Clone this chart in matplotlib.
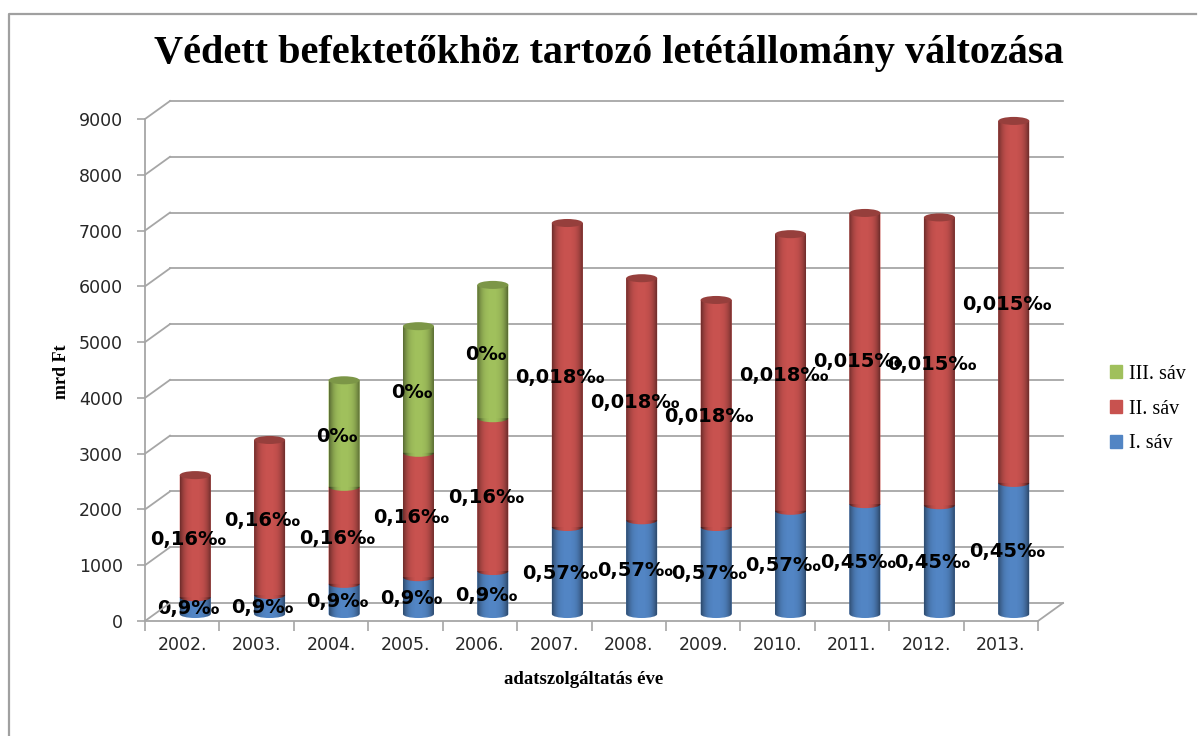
import matplotlib
matplotlib.use('Agg')
import matplotlib.pyplot as plt
import numpy as np
from matplotlib.lines import Line2D
from matplotlib.patches import Ellipse, PathPatch, Patch
from matplotlib.path import Path
from matplotlib.transforms import ScaledTranslation

# Data
years = ['2002.', '2003.', '2004.', '2005.', '2006.', '2007.',
         '2008.', '2009.', '2010.', '2011.', '2012.', '2013.']
sav1 = [300, 340, 540, 660, 770, 1560, 1680, 1560, 1850, 1970, 1950, 2350]
sav2 = [2190, 2780, 1740, 2230, 2740, 5450, 4340, 4070, 4960, 5220, 5160, 6490]
sav3 = [0, 0, 1910, 2270, 2390, 0, 0, 0, 0, 0, 0, 0]
labels1 = ['0,9‰', '0,9‰', '0,9‰', '0,9‰', '0,9‰', '0,57‰',
           '0,57‰', '0,57‰', '0,57‰', '0,45‰', '0,45‰', '0,45‰']
labels2 = ['0,16‰', '0,16‰', '0,16‰', '0,16‰', '0,16‰', '0,018‰',
           '0,018‰', '0,018‰', '0,018‰', '0,015‰', '0,015‰', '0,015‰']
labels3 = ['', '', '0‰', '0‰', '0‰', '', '', '', '', '', '', '']
yticks = [0, 1000, 2000, 3000, 4000, 5000, 6000, 7000, 8000, 9000]

W, H = 1201, 736
DPI = 100
BLUE, RED, GREEN = '#5285c4', '#c8524f', '#a0c05c'
GRID = '#a6a6a6'
SERIF = 'Liberation Serif'

fig = plt.figure(figsize=(W / DPI, H / DPI), dpi=DPI)
ax = fig.add_axes([145 / W, 1 - 621 / H, 893 / W, 502 / H])
ax.set_xlim(0, 12)
ax.set_ylim(0, 9000)
ax.patch.set_visible(False)


def shifted(dx, dy):
    # dx, dy in pixels, used for the fake 3d depth
    return ax.transData + ScaledTranslation(dx / DPI, dy / DPI, fig.dpi_scale_trans)


back = shifted(25, 18)
mid = shifted(13, 7)

# Back wall, side wall and floor
for t in yticks:
    ax.plot([0, 12], [t, t], color=GRID, lw=1.3, transform=back, clip_on=False, zorder=1)
    p0 = ax.transData.transform((0, t))
    fig.add_artist(Line2D([p0[0] / W, (p0[0] + 25) / W], [p0[1] / H, (p0[1] + 18) / H],
                          color=GRID, lw=1.3, zorder=1))
p1 = ax.transData.transform((12, 0))
fig.add_artist(Line2D([p1[0] / W, (p1[0] + 25) / W], [p1[1] / H, (p1[1] + 18) / H],
                      color=GRID, lw=1.3, zorder=1))

for s in ['top', 'right']:
    ax.spines[s].set_visible(False)
for s in ['left', 'bottom']:
    ax.spines[s].set_color(GRID)
    ax.spines[s].set_linewidth(1.3)

ax.set_yticks(yticks)
ax.set_xticks(np.arange(13))
ax.set_xticklabels([])
ax.set_xticks(np.arange(12) + 0.5, labels=years, minor=True)
ax.tick_params(axis='x', which='major', length=7, width=1.2, color=GRID)
ax.tick_params(axis='x', which='minor', length=0, pad=11, labelsize=12.5, labelcolor='#262626')
ax.tick_params(axis='y', length=6, width=1.2, color=GRID, pad=10, labelsize=12.5, labelcolor='#262626')

HW = 0.208   # half bar width, in category units
RY = 72      # ellipse half height, in value units
K = 0.5523


def cylinder_path(x, y0, y1):
    verts = [(x - HW, y1), (x + HW, y1),
             (x + HW, y0), (x + HW, y0 - K * RY), (x + K * HW, y0 - RY), (x, y0 - RY),
             (x - K * HW, y0 - RY), (x - HW, y0 - K * RY), (x - HW, y0), (x - HW, y1)]
    codes = [Path.MOVETO, Path.LINETO, Path.LINETO, Path.CURVE4, Path.CURVE4, Path.CURVE4,
             Path.CURVE4, Path.CURVE4, Path.CURVE4, Path.CLOSEPOLY]
    return Path(verts, codes)


# shading across the bar: dark edges, lighter middle
u = np.linspace(-1, 1, 64)
shade = np.zeros((1, 64, 4))
shade[0, :, 3] = 0.45 * np.abs(u) ** 3

x = np.arange(12) + 0.5
bottom = np.zeros(12)
series = [(sav1, BLUE, labels1), (sav2, RED, labels2), (sav3, GREEN, labels3)]
for vals, col, labs in series:
    vals = np.array(vals, dtype=float)
    bars = ax.bar(x, vals, width=2 * HW, bottom=bottom, color=col, transform=mid, zorder=3)
    for i, b in enumerate(bars):
        if vals[i] == 0:
            continue
        y0, y1 = bottom[i], bottom[i] + vals[i]
        clip = PathPatch(cylinder_path(x[i], y0, y1), facecolor=col, edgecolor='none',
                         transform=mid, zorder=3, clip_on=False)
        ax.add_patch(clip)
        b.set_clip_path(clip.get_path(), mid)
        im = ax.imshow(shade, extent=(x[i] - HW, x[i] + HW, y0 - RY, y1), aspect='auto',
                       transform=mid, zorder=3.1, interpolation='bilinear')
        im.set_clip_box(fig.bbox)
        im.set_clip_path(clip.get_path(), mid)
        ax.annotate(labs[i], xy=(x[i], (y0 + y1) / 2), xytext=(6, 4), textcoords='offset pixels',
                    ha='center', va='center', fontsize=14, fontweight='bold', color='black',
                    zorder=6)
    bottom = bottom + vals

# Top caps
darker = {RED: '#963f3c', GREEN: '#7c9647'}
for i in range(12):
    col = GREEN if sav3[i] > 0 else RED
    ax.add_patch(Ellipse((x[i], bottom[i]), 2 * HW, 2 * RY, facecolor=darker[col],
                         edgecolor='none', transform=mid, zorder=4, clip_on=False))

ax.set_xlim(0, 12)
ax.set_ylim(0, 9000)

# Titles
fig.text(609 / W, 1 - 54 / H, 'Védett befektetőkhöz tartozó letétállomány változása',
         ha='center', va='center', family=SERIF, fontweight='bold', fontsize=29)
ax.set_xlabel('adatszolgáltatás éve', family=SERIF, fontweight='bold', fontsize=13.5)
ax.xaxis.set_label_coords((584 - 145) / 893, -(679 - 621) / 502, transform=ax.transAxes)
ax.xaxis.label.set_verticalalignment('center')
ax.set_ylabel('mrd Ft', family=SERIF, fontweight='bold', fontsize=13)
ax.yaxis.set_label_coords((62 - 145) / 893, (621 - 372) / 502, transform=ax.transAxes)
ax.yaxis.label.set_verticalalignment('center')

# Legend
handles = [Patch(color=GREEN, label='III. sáv'), Patch(color=RED, label='II. sáv'),
           Patch(color=BLUE, label='I. sáv')]
fig.legend(handles=handles, loc='center left', bbox_to_anchor=(1110 / W, 1 - 409 / H),
           frameon=False, handlelength=0.6, handleheight=0.6, handletextpad=0.35,
           labelspacing=0.78, borderpad=0, borderaxespad=0,
           prop={'family': SERIF, 'size': 14.5})

# Outer frame of the chart
fig.add_artist(Line2D([8.5 / W, 8.5 / W, 1196 / W], [0, 1 - 13.5 / H, 1 - 13.5 / H],
                      color='#a0a0a0', lw=1.6))

fig.savefig('out.png', dpi=DPI)
